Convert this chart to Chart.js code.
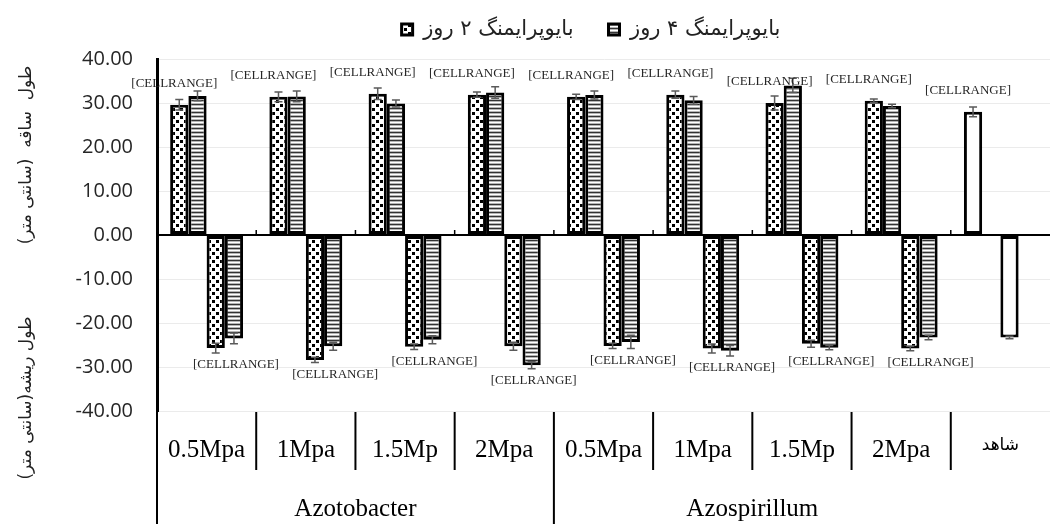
<!DOCTYPE html>
<html>
<head>
<meta charset="utf-8">
<script src="https://cdn.jsdelivr.net/npm/chart.js@4"></script>
<style>
  body { margin: 0; background: #fff; }
  #wrap { width: 1050px; height: 524px; position: relative; }
</style>
</head>
<body>
<div id="wrap"><canvas id="chart"></canvas></div>
<script>
// categories and groups
const categories = ["0.5Mpa", "1Mpa", "1.5Mp", "2Mpa", "0.5Mpa", "1Mpa", "1.5Mp", "2Mpa", "شاهد"];
const groups = ["Azotobacter", "Azospirillum"];
const seriesNames = ["بایوپرایمنگ ۲ روز", "بایوپرایمنگ ۴ روز"];

// stem length (positive) and root length (negative), cm
const stem2 = [29.6, 31.4, 32.1, 31.9, 31.4, 31.9, 30.0, 30.5, 28.0];
const stem4 = [31.6, 31.5, 29.9, 32.4, 31.8, 30.6, 34.0, 29.3, null];
const root2 = [-25.7, -28.4, -25.4, -25.3, -25.2, -25.8, -24.7, -25.8, -23.3];
const root4 = [-23.5, -25.3, -23.8, -29.6, -24.3, -26.3, -25.6, -23.3, null];

// error bars
const stemErr2 = [1.2, 1.1, 1.3, 0.6, 0.6, 0.8, 1.6, 0.4, 1.1];
const stemErr4 = [1.1, 1.2, 0.8, 1.3, 0.9, 0.9, 1.6, 0.4, 0];
const rootErr2 = [1.1, 0.6, 0.6, 0.9, 0.6, 1.0, 0.8, 0.5, 0.3];
const rootErr4 = [1.2, 0.9, 0.9, 0.8, 1.5, 1.2, 0.5, 0.5, 0];

const yTitles = ["طول  ساقه  (سانتی متر)", "طول ریشه(سانتی متر)"];
const cellLabel = "[CELLRANGE]";

// fill patterns
function makePattern(w, h, draw) {
  const c = document.createElement("canvas");
  c.width = w; c.height = h;
  const g = c.getContext("2d");
  draw(g);
  return g.createPattern(c, "repeat");
}
const dots = makePattern(8, 8, g => {
  g.fillStyle = "#fff"; g.fillRect(0, 0, 8, 8);
  g.fillStyle = "#000";
  g.fillRect(0, 0, 3, 3);
  g.fillRect(4, 4, 3, 3);
});
const stripes = makePattern(4, 4, g => {
  g.fillStyle = "#fff"; g.fillRect(0, 0, 4, 4);
  g.fillStyle = "#333"; g.fillRect(0, 0, 4, 1);
  g.fillStyle = "#b5b5b5"; g.fillRect(0, 1, 4, 1);
  g.fillStyle = "#b5b5b5"; g.fillRect(0, 3, 4, 1);
});
const fillFor = pat => ctx => (ctx.dataIndex === 8 ? "#fff" : pat);

const errs = [stemErr2, stemErr4, rootErr2, rootErr4];

// legend: a bit more room under it, and sit it over the plot
const legendFix = {
  id: "legendFix",
  beforeInit(chart) {
    const fit = chart.legend.fit;
    chart.legend.fit = function () {
      fit.bind(chart.legend)();
      this.height += 9;
    };
  },
  afterLayout(chart) {
    chart.legend.left += 66;
    chart.legend.right += 66;
  }
};

const extras = {
  id: "extras",
  afterDatasetsDraw(chart) {
    const { ctx, chartArea: a, scales: { x, y } } = chart;
    const y0 = y.getPixelForValue(0);
    ctx.save();
    // error bars
    ctx.strokeStyle = "#5a5a5a";
    ctx.lineWidth = 1.5;
    chart.data.datasets.forEach((ds, di) => {
      chart.getDatasetMeta(di).data.forEach((bar, i) => {
        const v = ds.data[i], e = errs[di][i];
        if (v == null || !e) return;
        const yt = y.getPixelForValue(v + e), yb = y.getPixelForValue(v - e);
        ctx.beginPath();
        ctx.moveTo(bar.x, yt); ctx.lineTo(bar.x, yb);
        ctx.moveTo(bar.x - 4, yt); ctx.lineTo(bar.x + 4, yt);
        ctx.moveTo(bar.x - 4, yb); ctx.lineTo(bar.x + 4, yb);
        ctx.stroke();
      });
    });
    // small ticks on zero line
    ctx.strokeStyle = "#000";
    ctx.lineWidth = 1.5;
    for (let i = 1; i < categories.length; i++) {
      const xb = (x.getPixelForValue(i - 1) + x.getPixelForValue(i)) / 2;
      ctx.beginPath(); ctx.moveTo(xb, y0 - 5); ctx.lineTo(xb, y0); ctx.stroke();
    }
    // data labels
    ctx.font = "13px 'Liberation Serif'";
    ctx.fillStyle = "#262626";
    ctx.textAlign = "center";
    ctx.textBaseline = "middle";
    const m0 = chart.getDatasetMeta(0).data, m3 = chart.getDatasetMeta(3).data;
    categories.forEach((c, i) => {
      ctx.fillText(cellLabel, m0[i].x - 5, m0[i].y - 21);
      if (i < 8) {
        const low = Math.max(
          y.getPixelForValue(root2[i] - rootErr2[i]),
          y.getPixelForValue(root4[i] - rootErr4[i]));
        ctx.fillText(cellLabel, m3[i].x + 2, low + 12);
      }
    });
    ctx.restore();
  },
  afterDraw(chart) {
    const { ctx, chartArea: a, scales: { x } } = chart;
    const H = chart.height;
    ctx.save();
    // separators under the plot
    ctx.strokeStyle = "#000";
    ctx.lineWidth = 2;
    for (let i = 0; i < categories.length; i++) {
      const xb = i === 0 ? a.left : (x.getPixelForValue(i - 1) + x.getPixelForValue(i)) / 2;
      const long = i === 0 || i === 4;
      ctx.beginPath();
      ctx.moveTo(xb, a.bottom + 1);
      ctx.lineTo(xb, long ? H : a.bottom + 59);
      ctx.stroke();
    }
    // group labels
    ctx.font = "25px 'Liberation Serif'";
    ctx.fillStyle = "#000";
    ctx.textAlign = "center";
    ctx.textBaseline = "middle";
    groups.forEach((g, k) => {
      const c = (x.getPixelForValue(k * 4) + x.getPixelForValue(k * 4 + 3)) / 2;
      ctx.fillText(g, c, 509);
    });
    // vertical y titles
    ctx.font = "17px 'DejaVu Sans'";
    ctx.fillStyle = "#222";
    [[155, yTitles[0]], [398, yTitles[1]]].forEach(([cy, t]) => {
      ctx.save();
      ctx.translate(27, cy);
      ctx.rotate(-Math.PI / 2);
      ctx.fillText(t, 0, 0);
      ctx.restore();
    });
    ctx.restore();
  }
};

new Chart(document.getElementById("chart"), {
  type: "bar",
  data: {
    labels: categories,
    datasets: [
      { label: seriesNames[0], data: stem2, backgroundColor: fillFor(dots) },
      { label: seriesNames[1], data: stem4, backgroundColor: fillFor(stripes) },
      { label: seriesNames[0], data: root2, backgroundColor: fillFor(dots) },
      { label: seriesNames[1], data: root4, backgroundColor: fillFor(stripes) }
    ]
  },
  options: {
    responsive: true,
    maintainAspectRatio: false,
    animation: false,
    layout: { padding: { top: -16, right: 0, left: 0, bottom: 0 } },
    datasets: {
      bar: {
        categoryPercentage: 0.735,
        barPercentage: 1,
        borderColor: "#000",
        borderWidth: 3,
        borderSkipped: false
      }
    },
    plugins: {
      legend: {
        position: "top",
        labels: {
          boxWidth: 11,
          boxHeight: 11,
          padding: 35,
          color: "#222",
          font: { family: "'DejaVu Sans'", size: 21 },
          filter: item => item.datasetIndex < 2
        }
      },
      tooltip: { enabled: false }
    },
    scales: {
      x: {
        grid: { display: false, drawTicks: false },
        border: { display: false },
        ticks: {
          autoSkip: false,
          maxRotation: 0,
          padding: 24,
          color: "#000",
          font: ctx => ctx.index === 8
            ? { family: "'DejaVu Sans'", size: 17 }
            : { family: "'Liberation Serif'", size: 25 }
        },
        afterFit: s => { s.height = 113; }
      },
      y: {
        min: -40,
        max: 40,
        ticks: {
          stepSize: 10,
          padding: 24,
          color: "#262626",
          font: { family: "'Open Sans'", size: 20 },
          callback: v => v.toFixed(2)
        },
        grid: {
          drawTicks: false,
          color: ctx => (ctx.tick && ctx.tick.value === 0 ? "#000" : "#ebebeb"),
          lineWidth: ctx => (ctx.tick && ctx.tick.value === 0 ? 2 : 1)
        },
        border: { color: "#000", width: 3 },
        afterFit: s => { s.width = 157; }
      }
    }
  },
  plugins: [legendFix, extras]
});
</script>
</body>
</html>
